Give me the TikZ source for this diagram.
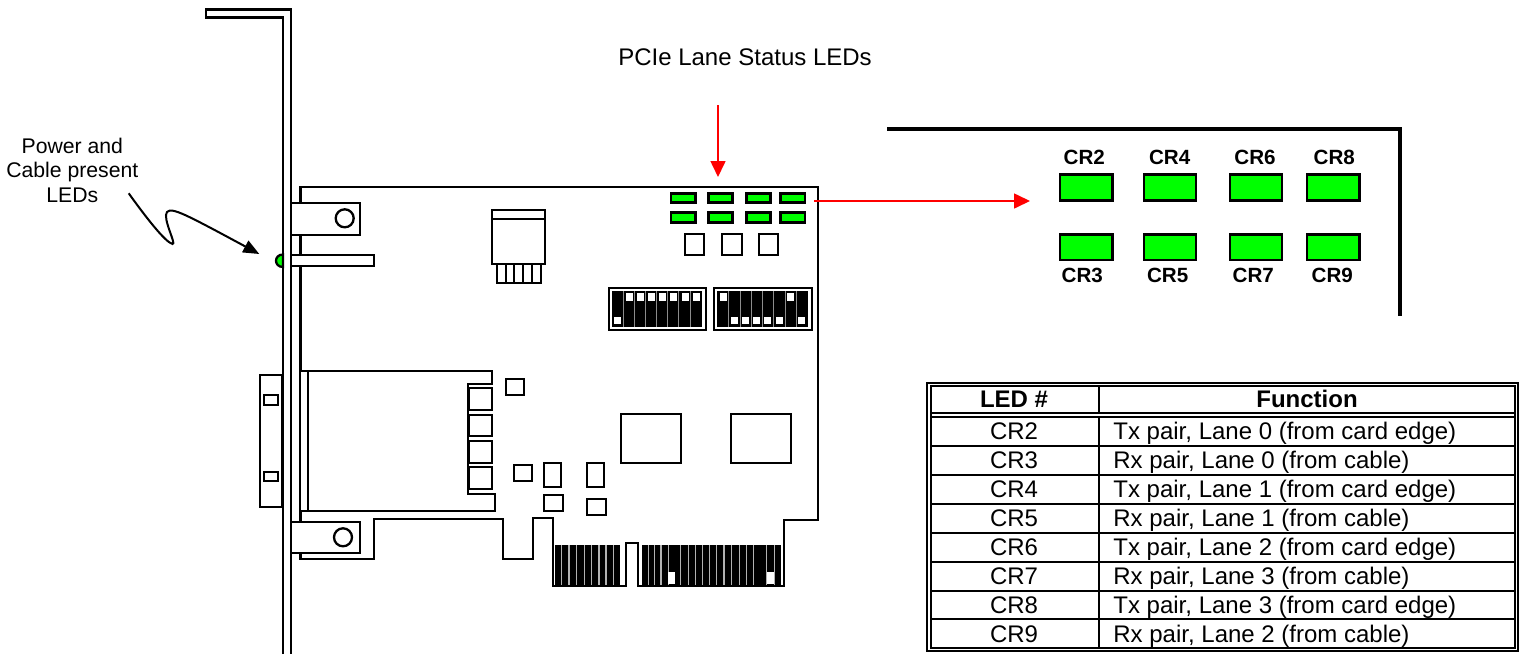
\documentclass[tikz,border=0pt]{standalone}
\usepackage{fontspec}
\setmainfont{Liberation Sans}
\usetikzlibrary{arrows.meta}
\tikzset{
  x=0.5pt,y=-0.5pt,
  part/.style={draw=black,line width=1.15pt,line join=miter},
  wpart/.style={part,fill=white},
  ledbox/.style={draw=black,line width=1.25pt,fill=green},
  thickrule/.style={draw=black,line width=2pt},
  rulei/.style={draw=black,line width=1pt},
  redarrow/.style={draw=red,line width=0.8pt,-{Triangle[length=8pt,width=7.5pt]}},
  blackarrow/.style={draw=black,line width=1pt,-{Triangle[length=8pt,width=6.5pt]}},
  tabletext/.style={inner sep=0pt,font=\fontsize{12}{14}\selectfont},
  tablehead/.style={inner sep=0pt,font=\fontsize{12}{14}\selectfont\bfseries},
  ledlabel/.style={inner sep=0pt,anchor=base,font=\fontsize{10.3}{12}\selectfont\bfseries},
  divider/.style={draw=black!45,line width=0.4pt},
}
\begin{document}
\begin{tikzpicture}
\useasboundingbox (0,0) rectangle (1524,654);
% board
\draw[part] (300.5,186.7) -- (818.3,186.7) -- (818.3,520) -- (784,520) -- (784,585.7) -- (638.3,585.7) -- (638.3,543.3) -- (625.7,543.3) -- (625.7,585.7) -- (552.7,585.7) -- (552.7,518.3) -- (532.7,518.3) -- (532.7,559.3) -- (503.3,559.3) -- (503.3,519.3) -- (374.3,519.3) -- (374.3,559.3) -- (300.5,559.3) -- cycle;
% faceplate
\draw[part] (283,654) -- (283,17.5) -- (206,17.5) -- (206,9.5) -- (291,9.5) -- (291,654);
% side LED
\draw[part,fill=green] (283,254.5) .. controls (273.7,254.5) and (273.7,267) .. (283,267) -- cycle;
% brackets
\draw[wpart] (291,203.3) rectangle (360,234.7);
\draw[part] (344.7,218.3) circle[radius=4.5pt];
\draw[wpart] (291,254.7) rectangle (373.7,266.3);
\draw[wpart] (291,521.7) rectangle (359.7,552.7);
\draw[part] (343,537.3) circle[radius=4.5pt];
% external connector
\draw[part] (260,375.3) rectangle (282.3,507);
\draw[part] (264.3,395) rectangle (278.3,404.7);
\draw[part] (264.3,471.7) rectangle (278.3,481.3);
% cable connector
\draw[wpart] (300,370.7) -- (492,370.7) -- (492,384) -- (467.7,384) -- (467.7,494.3) -- (495,494.3) -- (495,510.7) -- (300,510.7) -- cycle;
\draw[part] (308,370.7) -- (308,510.7);
\draw[part] (468.7,387.7) rectangle (492.3,410);
\draw[part] (468.7,414.7) rectangle (492.3,436.3);
\draw[part] (468.7,440.7) rectangle (492.3,462.7);
\draw[part] (468.7,467) rectangle (492.3,489);
% small parts
\draw[part] (505.7,379.3) rectangle (524.3,395.3);
\draw[part] (513.7,465.3) rectangle (532.3,481.3);
\draw[part] (544.3,463.3) rectangle (561.3,487.3);
\draw[part] (587.3,463.3) rectangle (604.3,487.3);
\draw[part] (544.3,495) rectangle (562.7,511);
\draw[part] (587.3,498.7) rectangle (605.7,514.7);
\draw[part] (621,414) rectangle (681,463);
\draw[part] (731,414) rectangle (791,463);
% regulator
\draw[part] (492.3,210) rectangle (545,264);
\draw[part] (492.3,219) -- (545,219);
\draw[part] (497.3,264) rectangle (540.7,283.3);
\foreach \x in {506,514.3,523,531.7} \draw[part] (\x,264) -- (\x,283.3);
% status LEDs on board
\foreach \x/\w in {671/695.3,708.3/732.7,746.3/770.7,780.7/805}{
  \draw[ledbox] (\x,193.3) rectangle (\w,202.7);
  \draw[ledbox] (\x,212.7) rectangle (\w,222.3);
}
\draw[part] (685,234) rectangle (703.7,255.3);
\draw[part] (722.3,234) rectangle (742,255.3);
\draw[part] (759,234) rectangle (777.7,255.3);
% DIP switches
\draw[wpart] (609,288.3) rectangle (705.7,329.7);
\fill[black] (611.7,291.3) rectangle (702.3,326.7);
\foreach \x in {623,634.7,645.7,656.7,667.7,678.7,690.7} \draw[divider] (\x,291.3) -- (\x,326.7);
\foreach \x/\y in {617.7/320.7,629/297,640/297,651/297,662/297,673.3/297,685.3/297,696.3/297}
  \fill[white] (\x-3.5,\y-3.7) rectangle (\x+3.5,\y+3.7);
\draw[wpart] (714.3,288.3) rectangle (811.7,329.7);
\fill[black] (717.3,291.3) rectangle (808.3,326.7);
\foreach \x in {728.7,740.7,751.7,762.7,773.7,785,796.7} \draw[divider] (\x,291.3) -- (\x,326.7);
\foreach \x/\y in {723/297,734.3/320.7,745.3/320.7,756.7/320.7,767.7/320.7,779/320.7,790.7/297,801.7/320.7}
  \fill[white] (\x-3.5,\y-3.7) rectangle (\x+3.5,\y+3.7);
% edge fingers
\fill[black] (555,545.3) rectangle (620.3,585);
\foreach \x in {561.3,569,576.7,584.3,591.7,599,606,613.3} \draw[divider,draw=black!30,line width=0.6pt] (\x,545.3) -- (\x,585);
\fill[black] (641.7,545.3) rectangle (780.7,585);
\foreach \x in {648.3,654.3,661,668.3,680.7,688.3,695.3,702.3,709.3,716.7,724,731.7,739.3,746.7,753.3,766.7,774.3} \draw[divider,draw=black!30,line width=0.6pt] (\x,545.3) -- (\x,585);
\fill[white] (667.7,571.7) rectangle (674.7,584.3);
\fill[white] (766.7,571.7) rectangle (774,584.3);
% labels and arrows
\node[inner sep=0pt,anchor=base,font=\fontsize{12}{14}\selectfont] (title) at (745,65) {PCIe Lane Status LEDs};
\coordinate (t1) at (718,105);
\coordinate (t2) at (718,177);
\draw[redarrow] (t1) -- (t2);
\coordinate (r1) at (814,201);
\coordinate (r2) at (1030,201);
\draw[redarrow] (r1) -- (r2);
\node[inner sep=0pt,align=center,font=\fontsize{10.6}{12.25}\selectfont] (power) at (72.3,170) {Power and\\Cable present\\LEDs};
\coordinate (s1) at (128.7,193.3);
\coordinate (s2) at (259.3,254);
\draw[blackarrow] (s1) .. controls (145,216) and (165,242) .. (172.5,244) .. controls (177,245) and (162,218) .. (167,212) .. controls (172,207) and (185,214) .. (s2);
% enlarged panel
\draw[thickrule,line join=miter] (887,129) -- (1400.3,129) -- (1400.3,316);
\foreach \x/\w in {1060/1112.3,1144/1196,1230/1282,1307/1359.3}{
  \draw[ledbox] (\x,174.7) rectangle (\w,200.3);
  \draw[ledbox] (\x,234.7) rectangle (\w,260);
}
\foreach \n/\x/\y in {CR2/1084.3/164,CR4/1169.7/164,CR6/1255/164,CR8/1334.3/164,CR3/1082.3/282,CR5/1167.7/282,CR7/1253.3/282,CR9/1332.3/282}
  \node[ledlabel] (panel\n) at (\x,\y) {\n};
% table
\draw[rulei] (926.7,383) rectangle (1518.3,651);
\draw[rulei] (930.7,386) rectangle (1514.7,648);
\draw[rulei] (930.7,413.3) -- (1514.7,413.3);
\draw[rulei] (930.7,417.3) -- (1514.7,417.3);
\draw[rulei] (1099,386) -- (1099,413.3);
\draw[rulei] (1099,417.3) -- (1099,648);
\foreach \y in {445.7,474.7,503.6,532.6,561.5,590.5,619.4} \draw[rulei] (930.7,\y) -- (1514.7,\y);
\node[tablehead,anchor=base] (hled) at (1014,407) {LED \#};
\node[tablehead,anchor=base] (hfun) at (1307,407) {Function};
\foreach \n/\t/\y in {
  CR2/{Tx pair, Lane 0 (from card edge)}/439.5,
  CR3/{Rx pair, Lane 0 (from cable)}/468.5,
  CR4/{Tx pair, Lane 1 (from card edge)}/497.4,
  CR5/{Rx pair, Lane 1 (from cable)}/526.4,
  CR6/{Tx pair, Lane 2 (from card edge)}/555.3,
  CR7/{Rx pair, Lane 3 (from cable)}/584.3,
  CR8/{Tx pair, Lane 3 (from card edge)}/613.2,
  CR9/{Rx pair, Lane 2 (from cable)}/642.2}{
  \node[tabletext,anchor=base] (row\n) at (1014,\y) {\n};
  \node[tabletext,anchor=base west] (fun\n) at (1113,\y) {\t};
}
\end{tikzpicture}
\end{document}
